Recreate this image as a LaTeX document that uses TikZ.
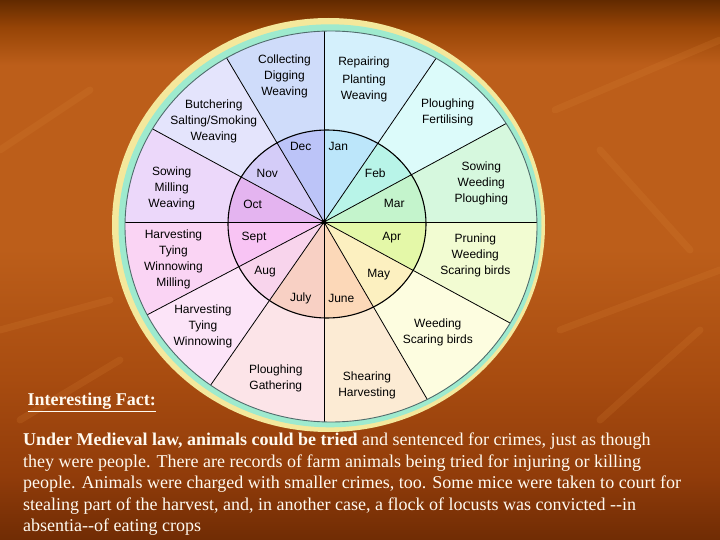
\documentclass[tikz,border=0pt]{standalone}
\usepackage{fontspec}
\setmainfont{Liberation Serif}
\newfontfamily\wheelfont{Liberation Sans}
\definecolor{bgA}{RGB}{112,44,4}
\definecolor{bgB}{RGB}{145,60,10}
\definecolor{bgC}{RGB}{168,76,16}
\definecolor{bgD}{RGB}{188,94,26}
\definecolor{bgE}{RGB}{150,68,6}
\definecolor{bgF}{RGB}{98,42,0}
\pgfdeclareverticalshading{bgshade}{100bp}{color(0bp)=(bgA); color(25bp)=(bgA); color(31bp)=(bgB); color(40bp)=(bgC); color(52bp)=(bgD); color(69bp)=(bgD); color(72.5bp)=(bgE); color(75bp)=(bgF); color(100bp)=(bgF)}
\definecolor{ringyellow}{RGB}{244,232,156}
\definecolor{ringgreen}{RGB}{158,234,206}
\definecolor{ringline}{RGB}{80,108,108}
% outer sectors
\definecolor{oJan}{RGB}{212,240,252}
\definecolor{oFeb}{RGB}{220,251,250}
\definecolor{oMar}{RGB}{214,248,222}
\definecolor{oApr}{RGB}{242,252,210}
\definecolor{oMay}{RGB}{253,253,224}
\definecolor{oJun}{RGB}{252,235,212}
\definecolor{oJul}{RGB}{252,228,232}
\definecolor{oAug}{RGB}{252,228,248}
\definecolor{oSep}{RGB}{250,212,244}
\definecolor{oOct}{RGB}{236,216,250}
\definecolor{oNov}{RGB}{228,228,252}
\definecolor{oDec}{RGB}{207,220,250}
% months
\definecolor{mJan}{RGB}{188,230,250}
\definecolor{mFeb}{RGB}{184,244,232}
\definecolor{mMar}{RGB}{196,244,204}
\definecolor{mApr}{RGB}{228,248,168}
\definecolor{mMay}{RGB}{252,240,192}
\definecolor{mJun}{RGB}{252,216,184}
\definecolor{mJul}{RGB}{248,208,196}
\definecolor{mAug}{RGB}{248,212,236}
\definecolor{mSep}{RGB}{248,196,244}
\definecolor{mOct}{RGB}{228,180,240}
\definecolor{mNov}{RGB}{212,204,248}
\definecolor{mDec}{RGB}{188,196,248}
\definecolor{bodytext}{RGB}{255,250,240}
\definecolor{leaf}{RGB}{225,140,60}
\begin{document}
\begin{tikzpicture}[x=1pt,y=-1pt,
  lbl/.style={font=\wheelfont\fontsize{12}{16}\selectfont, align=center, inner sep=0pt},
  mon/.style={font=\wheelfont\fontsize{12}{14}\selectfont, inner sep=0pt},
  body/.style={font=\fontsize{18}{21}\selectfont, text=bodytext, inner sep=0pt, anchor=base west},
  spoke/.style={line width=0.8pt, black},
  leafline/.style={leaf, opacity=0.16, line width=7pt, line cap=round}]
\useasboundingbox (0,0) rectangle (720,540);
\shade[shading=bgshade] (0,0) rectangle (720,540);
% faint background branches
\draw[leafline] (555,110) -- (720,40);
\draw[leafline] (600,150) -- (690,250);
\draw[leafline] (560,330) -- (720,270);
\draw[leafline] (600,420) -- (700,330);
\draw[leafline] (0,330) -- (110,300);
\draw[leafline] (20,420) -- (120,360);
\draw[leafline] (0,150) -- (90,90);
% ring
\fill[ringyellow] (328.5,225) ellipse [x radius=216.5, y radius=207];
\fill[ringgreen] (330,225.8) ellipse [x radius=211.5, y radius=201.5];
% sectors
\begin{scope}
  \clip (331,226.5) ellipse [x radius=206, y radius=195.5];
  \begin{scope}[shift={(324,222)}]
    \foreach \a/\b/\c in {90/55.6/oJan, 55.6/28.4/oFeb, 28.4/0/oMar, 0/-28.5/oApr,
      -28.5/-59.8/oMay, -59.8/-90/oJun, -90/-124.8/oJul, -124.8/-152.3/oAug,
      -152.3/-180/oSep, -180/-208.5/oOct, -208.5/-239.3/oNov, -239.3/-270/oDec}
      \fill[\c] (0,0) -- ({-\a}:500) -- ({-(\a+\b)/2}:500) -- ({-\b}:500) -- cycle;
  \end{scope}
  \begin{scope}
    \clip (327,224) ellipse [x radius=99, y radius=94];
    \begin{scope}[shift={(324,222)}]
      \foreach \a/\b/\c in {90/55.6/mJan, 55.6/28.4/mFeb, 28.4/0/mMar, 0/-28.5/mApr,
        -28.5/-59.8/mMay, -59.8/-90/mJun, -90/-124.8/mJul, -124.8/-152.3/mAug,
        -152.3/-180/mSep, -180/-208.5/mOct, -208.5/-239.3/mNov, -239.3/-270/mDec}
        \fill[\c] (0,0) -- ({-\a}:500) -- ({-(\a+\b)/2}:500) -- ({-\b}:500) -- cycle;
    \end{scope}
  \end{scope}
  \begin{scope}[shift={(324,222)}]
    \foreach \a in {90,55.6,28.4,0,-28.5,-59.8,-90,-124.8,-152.3,-180,-208.5,-239.3}
      \draw[spoke] (0,0) -- ({-\a}:500);
  \end{scope}
\end{scope}
\draw[line width=1.1pt, black] (327,224) ellipse [x radius=99, y radius=94];
\draw[ringline, line width=0.9pt] (331,226.5) ellipse [x radius=206, y radius=195.5];
\fill[black] (324,222) circle [radius=2.4];
% outer labels
\node[lbl] (lJan) at (364,79.5) {Repairing\\[2pt]Planting\\Weaving};
\node[lbl] (lFeb) at (447.7,112) {Ploughing\\Fertilising};
\node[lbl] (lMar) at (481.3,183.8) {Sowing\\Weeding\\Ploughing};
\node[lbl] (lApr) at (475.3,255.6) {Pruning\\Weeding\\Scaring birds};
\node[lbl] (lMay) at (437.8,332.3) {Weeding\\Scaring birds};
\node[lbl] (lJun) at (367,385.8) {Shearing\\Harvesting};
\node[lbl] (lJul) at (275.8,378.7) {Ploughing\\Gathering};
\node[lbl] (lAug) at (203,326.7) {Harvesting\\Tying\\Winnowing};
\node[lbl] (lSep) at (173.5,259) {Harvesting\\Tying\\Winnowing\\Milling};
\node[lbl] (lOct) at (171.7,188.5) {Sowing\\Milling\\Weaving};
\node[lbl] (lNov) at (213.8,121.6) {Butchering\\Salting/Smoking\\Weaving};
\node[lbl] (lDec) at (284.5,76.6) {Collecting\\Digging\\Weaving};
% months
\node[mon] (mJan) at (338.3,146.7) {Jan};
\node[mon] (mFeb) at (375.3,173.3) {Feb};
\node[mon] (mMar) at (394.3,203.3) {Mar};
\node[mon] (mApr) at (391.7,237.3) {Apr};
\node[mon] (mMay) at (378.7,275) {May};
\node[mon] (mJun) at (341.3,298.3) {June};
\node[mon] (mJul) at (300.7,298.3) {July};
\node[mon] (mAug) at (265,271.7) {Aug};
\node[mon] (mSep) at (254,237.3) {Sept};
\node[mon] (mOct) at (252.7,204) {Oct};
\node[mon] (mNov) at (267.3,173.3) {Nov};
\node[mon] (mDec) at (300.7,146.7) {Dec};
% text
\node[body] (fact) at (27.5,405.5) {\textbf{\underline{Interesting Fact:}}};
\node[body] (t1) at (23,445.5) {\textbf{Under Medieval law, animals could be tried} and sentenced for crimes, just as though};
\node[body] (t2) at (23,467) {they were people. There are records of farm animals being tried for injuring or killing};
\node[body] (t3) at (23,488.5) {people. Animals were charged with smaller crimes, too. Some mice were taken to court for};
\node[body] (t4) at (23,510) {stealing part of the harvest, and, in another case, a flock of locusts was convicted -{}-in};
\node[body] (t5) at (23,531.5) {absentia-{}-of eating crops};
\end{tikzpicture}
\end{document}
